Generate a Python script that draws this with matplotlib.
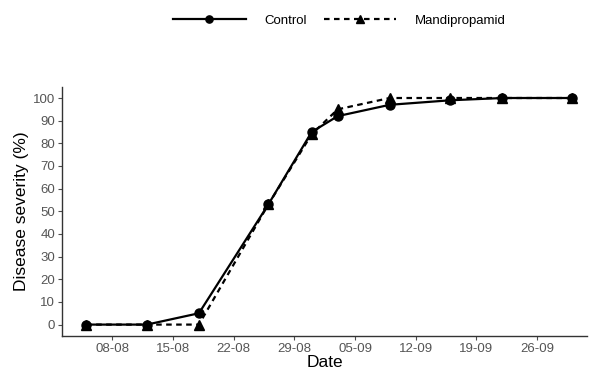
import numpy as np
import pandas as pd
import matplotlib.pyplot as plt
import matplotlib.dates as mdates

plt.rcParams["font.family"] = ["Liberation Sans", "DejaVu Sans"]

dates = pd.to_datetime(["2019-08-05", "2019-08-12", "2019-08-18", "2019-08-26", "2019-08-31",
                        "2019-09-03", "2019-09-09", "2019-09-16", "2019-09-22", "2019-09-30"])
control = [0, 0, 5, 53, 85, 92, 97, 99, 100, 100]
mandipropamid = [0, 0, 0, 53, 84, 95, 100, 100, 100, 100]
tick_dates = pd.to_datetime(["2019-08-08", "2019-08-15", "2019-08-22", "2019-08-29",
                             "2019-09-05", "2019-09-12", "2019-09-19", "2019-09-26"])

fig = plt.figure(figsize=(5.9, 3.72), dpi=100)
ax = fig.add_axes([0.105, 0.097, 0.89, 0.67])

ax.plot(dates, control, color="black", linestyle="-", linewidth=1.6,
        marker="o", markersize=6.5, label="Control")
ax.plot(dates, mandipropamid, color="black", linestyle=(0, (2.5, 2)), linewidth=1.6,
        marker="^", markersize=7.5, label="Mandipropamid")

ax.set_xlim(pd.Timestamp("2019-08-02 05:00"), pd.Timestamp("2019-10-01 18:00"))
ax.set_ylim(-5, 105)
ax.set_yticks(np.arange(0, 101, 10))
ax.set_xticks(tick_dates)
ax.xaxis.set_major_formatter(mdates.DateFormatter("%d-%m"))

for s in ["top", "right"]:
    ax.spines[s].set_visible(False)
for s in ["left", "bottom"]:
    ax.spines[s].set_color("#333333")
    ax.spines[s].set_linewidth(1.0)
ax.tick_params(colors="#4d4d4d", labelsize=9.5, length=3, width=0.8, pad=2)
ax.tick_params(axis="both", labelcolor="#555555")

ax.set_xlabel("Date", fontsize=12.5, labelpad=0)
ax.set_ylabel("Disease severity (%)", fontsize=12.5, labelpad=3)

fig.legend(loc="center", bbox_to_anchor=(0.575, 0.945), ncol=2, frameon=False,
           fontsize=9.5, handlelength=5.5, columnspacing=1.3, handletextpad=1.4,
           markerscale=0.8)

plt.savefig("out.png", dpi=100)
